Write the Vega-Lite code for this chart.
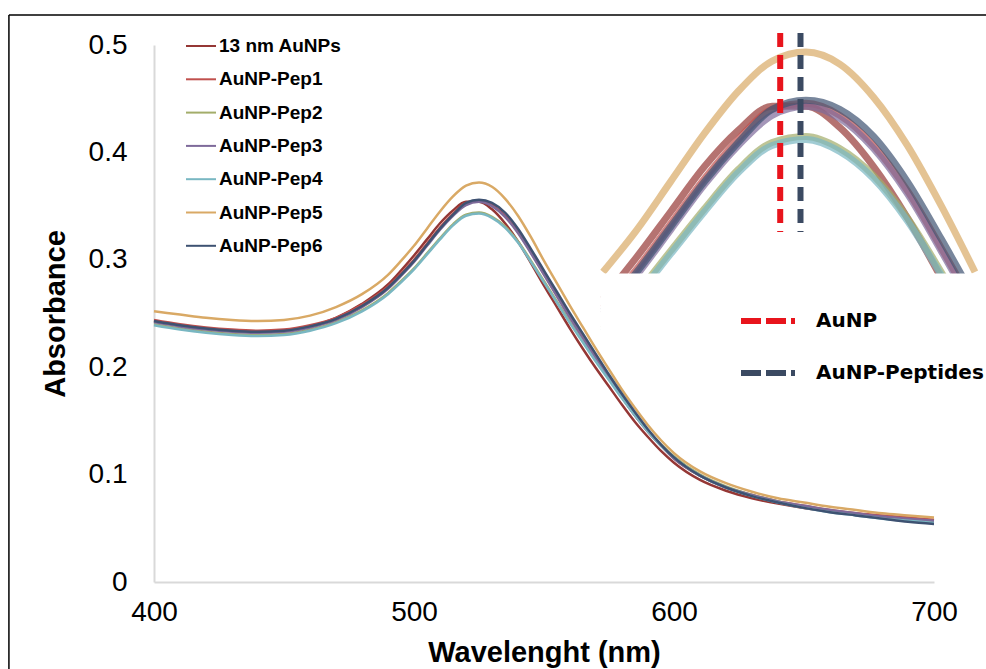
{
  "$schema": "https://vega.github.io/schema/vega-lite/v6.json",
  "width": 780,
  "height": 537,
  "autosize": {"type": "none"},
  "padding": {"left": 154, "top": 45, "right": 52, "bottom": 87},
  "background": "white",
  "config": {"view": {"stroke": null}, "font": "Liberation Sans"},
  "datasets": {
    "spectra": [
      {"w":400,"13 nm AuNPs":0.243,"AuNP-Pep1":0.244,"AuNP-Pep2":0.240,"AuNP-Pep3":0.242,"AuNP-Pep4":0.239,"AuNP-Pep5":0.252,"AuNP-Pep6":0.243},
      {"w":410,"13 nm AuNPs":0.239,"AuNP-Pep1":0.240,"AuNP-Pep2":0.236,"AuNP-Pep3":0.238,"AuNP-Pep4":0.235,"AuNP-Pep5":0.249,"AuNP-Pep6":0.239},
      {"w":420,"13 nm AuNPs":0.236,"AuNP-Pep1":0.237,"AuNP-Pep2":0.233,"AuNP-Pep3":0.235,"AuNP-Pep4":0.232,"AuNP-Pep5":0.246,"AuNP-Pep6":0.236},
      {"w":430,"13 nm AuNPs":0.234,"AuNP-Pep1":0.235,"AuNP-Pep2":0.231,"AuNP-Pep3":0.233,"AuNP-Pep4":0.230,"AuNP-Pep5":0.244,"AuNP-Pep6":0.234},
      {"w":440,"13 nm AuNPs":0.233,"AuNP-Pep1":0.234,"AuNP-Pep2":0.230,"AuNP-Pep3":0.232,"AuNP-Pep4":0.229,"AuNP-Pep5":0.243,"AuNP-Pep6":0.233},
      {"w":450,"13 nm AuNPs":0.234,"AuNP-Pep1":0.235,"AuNP-Pep2":0.231,"AuNP-Pep3":0.233,"AuNP-Pep4":0.230,"AuNP-Pep5":0.244,"AuNP-Pep6":0.234},
      {"w":460,"13 nm AuNPs":0.238,"AuNP-Pep1":0.239,"AuNP-Pep2":0.235,"AuNP-Pep3":0.237,"AuNP-Pep4":0.234,"AuNP-Pep5":0.248,"AuNP-Pep6":0.238},
      {"w":470,"13 nm AuNPs":0.246,"AuNP-Pep1":0.246,"AuNP-Pep2":0.242,"AuNP-Pep3":0.244,"AuNP-Pep4":0.241,"AuNP-Pep5":0.256,"AuNP-Pep6":0.245},
      {"w":480,"13 nm AuNPs":0.259,"AuNP-Pep1":0.258,"AuNP-Pep2":0.253,"AuNP-Pep3":0.256,"AuNP-Pep4":0.252,"AuNP-Pep5":0.268,"AuNP-Pep6":0.257},
      {"w":490,"13 nm AuNPs":0.277,"AuNP-Pep1":0.275,"AuNP-Pep2":0.269,"AuNP-Pep3":0.273,"AuNP-Pep4":0.268,"AuNP-Pep5":0.286,"AuNP-Pep6":0.274},
      {"w":495,"13 nm AuNPs":0.290,"AuNP-Pep1":0.287,"AuNP-Pep2":0.280,"AuNP-Pep3":0.285,"AuNP-Pep4":0.279,"AuNP-Pep5":0.299,"AuNP-Pep6":0.286},
      {"w":500,"13 nm AuNPs":0.304,"AuNP-Pep1":0.300,"AuNP-Pep2":0.292,"AuNP-Pep3":0.298,"AuNP-Pep4":0.291,"AuNP-Pep5":0.313,"AuNP-Pep6":0.299},
      {"w":505,"13 nm AuNPs":0.319,"AuNP-Pep1":0.315,"AuNP-Pep2":0.306,"AuNP-Pep3":0.313,"AuNP-Pep4":0.305,"AuNP-Pep5":0.329,"AuNP-Pep6":0.314},
      {"w":510,"13 nm AuNPs":0.334,"AuNP-Pep1":0.330,"AuNP-Pep2":0.320,"AuNP-Pep3":0.328,"AuNP-Pep4":0.319,"AuNP-Pep5":0.345,"AuNP-Pep6":0.329},
      {"w":515,"13 nm AuNPs":0.346,"AuNP-Pep1":0.343,"AuNP-Pep2":0.333,"AuNP-Pep3":0.341,"AuNP-Pep4":0.332,"AuNP-Pep5":0.359,"AuNP-Pep6":0.342},
      {"w":520,"13 nm AuNPs":0.354,"AuNP-Pep1":0.353,"AuNP-Pep2":0.342,"AuNP-Pep3":0.351,"AuNP-Pep4":0.341,"AuNP-Pep5":0.369,"AuNP-Pep6":0.353},
      {"w":525,"13 nm AuNPs":0.354,"AuNP-Pep1":0.355,"AuNP-Pep2":0.344,"AuNP-Pep3":0.354,"AuNP-Pep4":0.343,"AuNP-Pep5":0.372,"AuNP-Pep6":0.356},
      {"w":530,"13 nm AuNPs":0.347,"AuNP-Pep1":0.351,"AuNP-Pep2":0.340,"AuNP-Pep3":0.350,"AuNP-Pep4":0.339,"AuNP-Pep5":0.368,"AuNP-Pep6":0.353},
      {"w":535,"13 nm AuNPs":0.334,"AuNP-Pep1":0.341,"AuNP-Pep2":0.331,"AuNP-Pep3":0.340,"AuNP-Pep4":0.330,"AuNP-Pep5":0.357,"AuNP-Pep6":0.344},
      {"w":540,"13 nm AuNPs":0.317,"AuNP-Pep1":0.326,"AuNP-Pep2":0.317,"AuNP-Pep3":0.325,"AuNP-Pep4":0.316,"AuNP-Pep5":0.341,"AuNP-Pep6":0.329},
      {"w":545,"13 nm AuNPs":0.297,"AuNP-Pep1":0.307,"AuNP-Pep2":0.299,"AuNP-Pep3":0.306,"AuNP-Pep4":0.298,"AuNP-Pep5":0.321,"AuNP-Pep6":0.310},
      {"w":550,"13 nm AuNPs":0.276,"AuNP-Pep1":0.287,"AuNP-Pep2":0.280,"AuNP-Pep3":0.286,"AuNP-Pep4":0.279,"AuNP-Pep5":0.299,"AuNP-Pep6":0.290},
      {"w":555,"13 nm AuNPs":0.256,"AuNP-Pep1":0.267,"AuNP-Pep2":0.261,"AuNP-Pep3":0.266,"AuNP-Pep4":0.260,"AuNP-Pep5":0.278,"AuNP-Pep6":0.270},
      {"w":560,"13 nm AuNPs":0.236,"AuNP-Pep1":0.247,"AuNP-Pep2":0.242,"AuNP-Pep3":0.246,"AuNP-Pep4":0.241,"AuNP-Pep5":0.257,"AuNP-Pep6":0.250},
      {"w":565,"13 nm AuNPs":0.217,"AuNP-Pep1":0.228,"AuNP-Pep2":0.224,"AuNP-Pep3":0.227,"AuNP-Pep4":0.223,"AuNP-Pep5":0.237,"AuNP-Pep6":0.231},
      {"w":570,"13 nm AuNPs":0.199,"AuNP-Pep1":0.209,"AuNP-Pep2":0.206,"AuNP-Pep3":0.208,"AuNP-Pep4":0.205,"AuNP-Pep5":0.217,"AuNP-Pep6":0.212},
      {"w":575,"13 nm AuNPs":0.182,"AuNP-Pep1":0.190,"AuNP-Pep2":0.189,"AuNP-Pep3":0.190,"AuNP-Pep4":0.188,"AuNP-Pep5":0.198,"AuNP-Pep6":0.193},
      {"w":580,"13 nm AuNPs":0.165,"AuNP-Pep1":0.172,"AuNP-Pep2":0.172,"AuNP-Pep3":0.172,"AuNP-Pep4":0.171,"AuNP-Pep5":0.179,"AuNP-Pep6":0.175},
      {"w":585,"13 nm AuNPs":0.149,"AuNP-Pep1":0.155,"AuNP-Pep2":0.156,"AuNP-Pep3":0.155,"AuNP-Pep4":0.155,"AuNP-Pep5":0.162,"AuNP-Pep6":0.158},
      {"w":590,"13 nm AuNPs":0.135,"AuNP-Pep1":0.140,"AuNP-Pep2":0.141,"AuNP-Pep3":0.140,"AuNP-Pep4":0.140,"AuNP-Pep5":0.146,"AuNP-Pep6":0.142},
      {"w":595,"13 nm AuNPs":0.122,"AuNP-Pep1":0.127,"AuNP-Pep2":0.128,"AuNP-Pep3":0.127,"AuNP-Pep4":0.127,"AuNP-Pep5":0.132,"AuNP-Pep6":0.128},
      {"w":600,"13 nm AuNPs":0.111,"AuNP-Pep1":0.115,"AuNP-Pep2":0.117,"AuNP-Pep3":0.115,"AuNP-Pep4":0.116,"AuNP-Pep5":0.120,"AuNP-Pep6":0.116},
      {"w":610,"13 nm AuNPs":0.095,"AuNP-Pep1":0.099,"AuNP-Pep2":0.100,"AuNP-Pep3":0.099,"AuNP-Pep4":0.099,"AuNP-Pep5":0.103,"AuNP-Pep6":0.099},
      {"w":620,"13 nm AuNPs":0.085,"AuNP-Pep1":0.088,"AuNP-Pep2":0.089,"AuNP-Pep3":0.088,"AuNP-Pep4":0.088,"AuNP-Pep5":0.092,"AuNP-Pep6":0.088},
      {"w":630,"13 nm AuNPs":0.078,"AuNP-Pep1":0.081,"AuNP-Pep2":0.081,"AuNP-Pep3":0.081,"AuNP-Pep4":0.080,"AuNP-Pep5":0.084,"AuNP-Pep6":0.080},
      {"w":640,"13 nm AuNPs":0.073,"AuNP-Pep1":0.075,"AuNP-Pep2":0.075,"AuNP-Pep3":0.075,"AuNP-Pep4":0.074,"AuNP-Pep5":0.078,"AuNP-Pep6":0.074},
      {"w":650,"13 nm AuNPs":0.069,"AuNP-Pep1":0.071,"AuNP-Pep2":0.070,"AuNP-Pep3":0.071,"AuNP-Pep4":0.069,"AuNP-Pep5":0.074,"AuNP-Pep6":0.069},
      {"w":660,"13 nm AuNPs":0.066,"AuNP-Pep1":0.067,"AuNP-Pep2":0.066,"AuNP-Pep3":0.067,"AuNP-Pep4":0.065,"AuNP-Pep5":0.070,"AuNP-Pep6":0.065},
      {"w":670,"13 nm AuNPs":0.063,"AuNP-Pep1":0.064,"AuNP-Pep2":0.063,"AuNP-Pep3":0.064,"AuNP-Pep4":0.062,"AuNP-Pep5":0.067,"AuNP-Pep6":0.062},
      {"w":680,"13 nm AuNPs":0.061,"AuNP-Pep1":0.062,"AuNP-Pep2":0.060,"AuNP-Pep3":0.061,"AuNP-Pep4":0.059,"AuNP-Pep5":0.064,"AuNP-Pep6":0.059},
      {"w":690,"13 nm AuNPs":0.059,"AuNP-Pep1":0.060,"AuNP-Pep2":0.057,"AuNP-Pep3":0.059,"AuNP-Pep4":0.057,"AuNP-Pep5":0.062,"AuNP-Pep6":0.056},
      {"w":700,"13 nm AuNPs":0.057,"AuNP-Pep1":0.058,"AuNP-Pep2":0.055,"AuNP-Pep3":0.057,"AuNP-Pep4":0.055,"AuNP-Pep5":0.060,"AuNP-Pep6":0.054}
    ],
    "peaks": [
      {"kind": "AuNP", "peak": 521.2},
      {"kind": "AuNP-Peptides", "peak": 524.2}
    ]
  },
  "layer": [
    {
      "layer": [
        {
          "data": {"values": [{}]},
          "mark": {"type": "rule", "color": "#000000", "strokeWidth": 1.5},
          "encoding": {
            "x": {"datum": 344.2, "type": "quantitative", "scale": {"domain": [400, 700], "nice": false}},
            "y": {"datum": 0.528, "type": "quantitative", "scale": {"domain": [0, 0.5], "nice": false}},
            "y2": {"datum": -0.09}
          }
        },
        {
          "data": {"values": [{}]},
          "mark": {"type": "rule", "color": "#000000", "strokeWidth": 1.5},
          "encoding": {
            "x": {"datum": 344.2, "type": "quantitative", "scale": {"domain": [400, 700], "nice": false}},
            "x2": {"datum": 725},
            "y": {"datum": 0.528, "type": "quantitative", "scale": {"domain": [0, 0.5], "nice": false}}
          }
        },
        {
          "data": {"name": "spectra"},
          "transform": [
            {"fold": ["13 nm AuNPs", "AuNP-Pep1", "AuNP-Pep2", "AuNP-Pep3", "AuNP-Pep4", "AuNP-Pep5", "AuNP-Pep6"], "as": ["series", "a"]}
          ],
          "mark": {"type": "line", "strokeWidth": 2.5, "interpolate": "monotone"},
          "encoding": {
            "x": {
              "field": "w", "type": "quantitative",
              "scale": {"domain": [400, 700], "nice": false},
              "axis": {
                "values": [400, 500, 600, 700], "ticks": false, "grid": false, "labelFlush": false,
                "domainColor": "#D9D9D9", "domainWidth": 2,
                "labelFontSize": 28, "labelColor": "#000000", "labelPadding": 16,
                "title": "Wavelenght (nm)", "titleFontSize": 29, "titleFontWeight": "bold",
                "titleColor": "#000000", "titlePadding": 12
              }
            },
            "y": {
              "field": "a", "type": "quantitative",
              "scale": {"domain": [0, 0.5], "nice": false},
              "axis": {
                "values": [0, 0.1, 0.2, 0.3, 0.4, 0.5], "format": "~g", "ticks": false, "grid": false,
                "domainColor": "#D9D9D9", "domainWidth": 2,
                "labelFontSize": 28, "labelColor": "#000000", "labelPadding": 27,
                "title": "Absorbance", "titleFontSize": 29, "titleFontWeight": "bold",
                "titleColor": "#000000", "titlePadding": 18
              }
            },
            "color": {
              "field": "series", "type": "nominal",
              "scale": {
                "domain": ["13 nm AuNPs", "AuNP-Pep1", "AuNP-Pep2", "AuNP-Pep3", "AuNP-Pep4", "AuNP-Pep5", "AuNP-Pep6"],
                "range": ["#953735", "#C0504D", "#A3AD6A", "#7E6A9A", "#79B7C2", "#D9A965", "#3E5272"]
              },
              "legend": {
                "title": null, "orient": "none", "legendX": 31, "legendY": -15,
                "symbolType": "stroke", "symbolSize": 900, "symbolStrokeWidth": 2,
                "labelFontSize": 19, "labelFontWeight": "bold", "labelColor": "#000000",
                "labelOffset": 2, "rowPadding": 7.3, "padding": 0
              }
            }
          }
        }
      ]
    },
    {
      "layer": [
        {
          "data": {"name": "spectra"},
          "transform": [
            {"fold": ["13 nm AuNPs", "AuNP-Pep1", "AuNP-Pep2", "AuNP-Pep3", "AuNP-Pep4", "AuNP-Pep5", "AuNP-Pep6"], "as": ["series", "a"]},
            {"filter": {"field": "w", "range": [495, 550]}}
          ],
          "mark": {"type": "line", "strokeWidth": 7, "opacity": 0.7, "interpolate": "monotone"},
          "encoding": {
            "x": {"field": "w", "type": "quantitative", "scale": {"domain": [495, 550], "range": [449, 821], "nice": false, "zero": false}, "axis": null},
            "y": {"field": "a", "type": "quantitative", "scale": {"domain": [0.298, 0.38], "range": [230, -17], "nice": false, "zero": false}, "axis": null},
            "color": {"field": "series", "type": "nominal", "legend": null}
          }
        },
        {
          "data": {"values": [{}]},
          "mark": {"type": "rect", "color": "white"},
          "encoding": {
            "x": {"datum": 494.6, "type": "quantitative"}, "x2": {"datum": 551.5},
            "y": {"datum": 0.2985, "type": "quantitative"}, "y2": {"datum": 0.273}
          }
        },
        {
          "data": {"name": "peaks"},
          "mark": {"type": "rule", "strokeWidth": 6, "strokeDash": [14, 8]},
          "encoding": {
            "x": {"field": "peak", "type": "quantitative"},
            "y": {"datum": 0.3783, "type": "quantitative"}, "y2": {"datum": 0.3123},
            "stroke": {
              "field": "kind", "type": "nominal",
              "scale": {"domain": ["AuNP", "AuNP-Peptides"], "range": ["#E8141C", "#3B4A62"]},
              "legend": {
                "title": null, "orient": "none", "legendX": 584, "legendY": 246,
                "symbolType": "stroke", "symbolSize": 2916, "symbolStrokeWidth": 6, "symbolDash": [20, 5],
                "labelFont": "DejaVu Sans", "labelFontSize": 20, "labelFontWeight": "bold", "labelColor": "#000000",
                "labelOffset": 18, "labelLimit": 400, "rowPadding": 10, "padding": 0
              }
            }
          }
        }
      ]
    }
  ],
  "resolve": {"scale": {"x": "independent", "y": "independent"}}
}
